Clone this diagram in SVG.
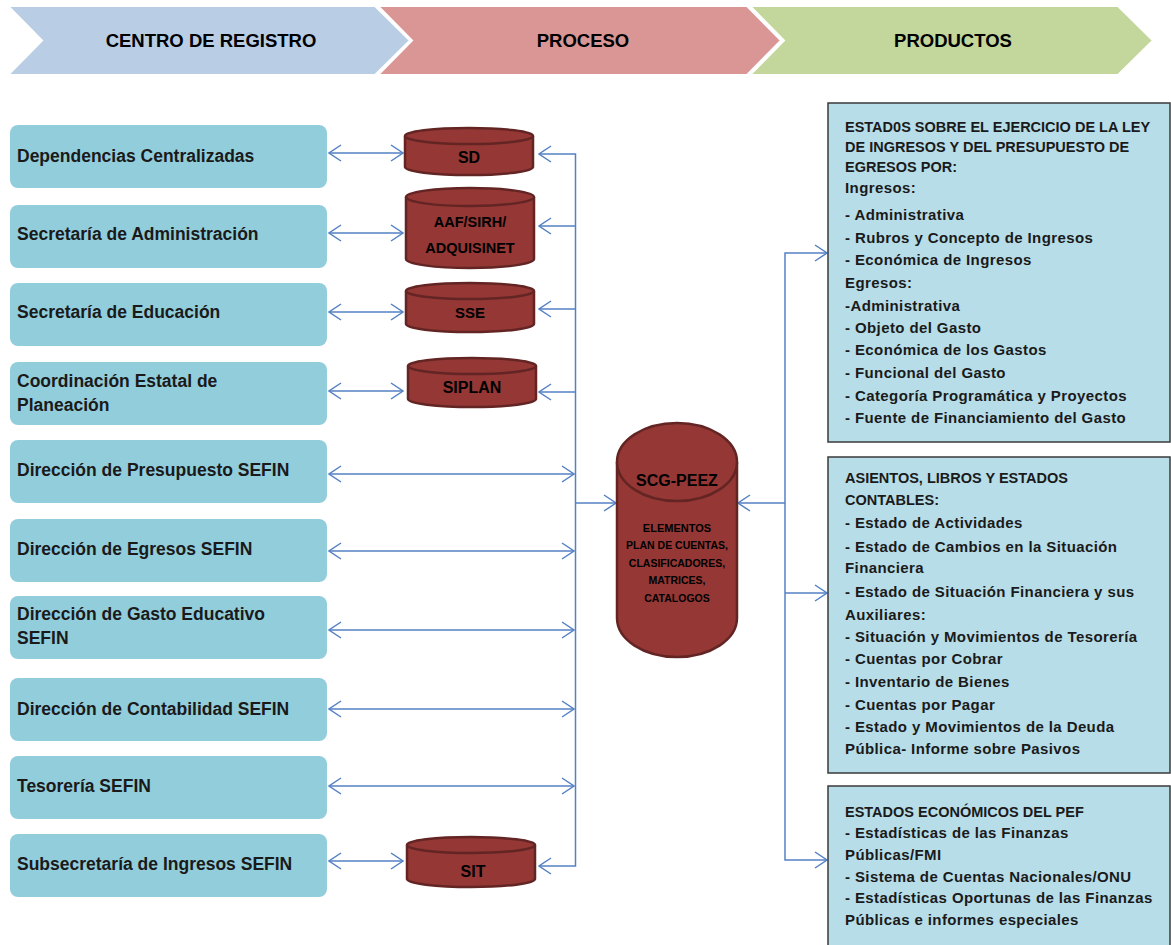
<svg xmlns="http://www.w3.org/2000/svg" width="1171" height="945" viewBox="0 0 1171 945">
<style>
.hdr{font-family:"Liberation Sans",Arial,sans-serif;font-weight:bold;font-size:18.5px;fill:#000;text-anchor:middle}
.lbox{fill:#92cddc;stroke:none}
.ltxt{font-family:"Liberation Sans",Arial,sans-serif;font-weight:bold;font-size:17.5px;fill:#1a1a1a}
.cyl{fill:#953735;stroke:#632523;stroke-width:2.5}
.ctxt{font-family:"Liberation Sans",Arial,sans-serif;font-weight:bold;font-size:16px;fill:#000;text-anchor:middle}
.rbox{fill:#b7dde8;stroke:#3a3a3a;stroke-width:1.5}
.rtxt{font-family:"Liberation Sans",Arial,sans-serif;font-weight:bold;font-size:15px;letter-spacing:0.4px;fill:#1a1a1a}
.rcap{font-family:"Liberation Sans",Arial,sans-serif;font-weight:bold;font-size:14.5px;fill:#1a1a1a}
.con{fill:none;stroke:#5481c4;stroke-width:1.5}
</style>
<defs>
<marker id="ah" viewBox="0 0 14 18" refX="13" refY="9" markerWidth="14" markerHeight="18" markerUnits="userSpaceOnUse" orient="auto-start-reverse">
<path d="M1,1 L13,9 L1,17" fill="none" stroke="#5481c4" stroke-width="1.5"/>
</marker>
</defs>
<rect width="1171" height="945" fill="#fff"/>
<g id="header">
<polygon points="8,6 375,6 410,40.5 375,75 8,75 42,40.5" fill="#b9cde5" stroke="#fff" stroke-width="2"/>
<polygon points="378,6 747,6 781,40.5 747,75 378,75 412,40.5" fill="#d99694" stroke="#fff" stroke-width="2"/>
<polygon points="750,6 1118,6 1153,40.5 1118,75 750,75 784,40.5" fill="#c3d69b" stroke="#fff" stroke-width="2"/>
<text class="hdr" x="211" y="47">CENTRO DE REGISTRO</text>
<text class="hdr" x="583" y="47">PROCESO</text>
<text class="hdr" x="953" y="47">PRODUCTOS</text>
</g>
<g id="connectors">
<line class="con" x1="329" y1="153" x2="403" y2="153" marker-start="url(#ah)" marker-end="url(#ah)"/>
<line class="con" x1="329" y1="233" x2="403" y2="233" marker-start="url(#ah)" marker-end="url(#ah)"/>
<line class="con" x1="329" y1="312" x2="403" y2="312" marker-start="url(#ah)" marker-end="url(#ah)"/>
<line class="con" x1="329" y1="391" x2="403" y2="391" marker-start="url(#ah)" marker-end="url(#ah)"/>
<line class="con" x1="329" y1="474" x2="574" y2="474" marker-start="url(#ah)" marker-end="url(#ah)"/>
<line class="con" x1="329" y1="551" x2="574" y2="551" marker-start="url(#ah)" marker-end="url(#ah)"/>
<line class="con" x1="329" y1="630" x2="574" y2="630" marker-start="url(#ah)" marker-end="url(#ah)"/>
<line class="con" x1="329" y1="709" x2="574" y2="709" marker-start="url(#ah)" marker-end="url(#ah)"/>
<line class="con" x1="329" y1="786" x2="574" y2="786" marker-start="url(#ah)" marker-end="url(#ah)"/>
<line class="con" x1="329" y1="861" x2="403" y2="861" marker-start="url(#ah)" marker-end="url(#ah)"/>
<path class="con" d="M539,154 H575.5 V866 H539" marker-start="url(#ah)" marker-end="url(#ah)"/>
<path class="con" d="M575.5,226 H539" marker-end="url(#ah)"/>
<path class="con" d="M575.5,309 H539" marker-end="url(#ah)"/>
<path class="con" d="M575.5,392 H539" marker-end="url(#ah)"/>
<path class="con" d="M575.5,503 H616" marker-end="url(#ah)"/>
<path class="con" d="M785,503 H738" marker-end="url(#ah)"/>
<path class="con" d="M827,253 H785 V860 H827" marker-start="url(#ah)" marker-end="url(#ah)"/>
<path class="con" d="M785,593 H827" marker-end="url(#ah)"/>
</g>
<g id="n-dependencias"><rect class="lbox" x="10" y="125" width="317" height="63" rx="8"/><text class="ltxt" x="17" y="162">Dependencias Centralizadas</text></g>
<g id="n-administracion"><rect class="lbox" x="10" y="205" width="317" height="63" rx="8"/><text class="ltxt" x="17" y="240">Secretaría de Administración</text></g>
<g id="n-educacion"><rect class="lbox" x="10" y="283" width="317" height="63" rx="8"/><text class="ltxt" x="17" y="318">Secretaría de Educación</text></g>
<g id="n-planeacion"><rect class="lbox" x="10" y="362" width="317" height="63" rx="8"/><text class="ltxt" x="17" y="387">Coordinación Estatal de</text><text class="ltxt" x="17" y="411">Planeación</text></g>
<g id="n-presupuesto"><rect class="lbox" x="10" y="440" width="317" height="63" rx="8"/><text class="ltxt" x="17" y="476">Dirección de Presupuesto SEFIN</text></g>
<g id="n-egresos"><rect class="lbox" x="10" y="519" width="317" height="63" rx="8"/><text class="ltxt" x="17" y="555">Dirección de Egresos SEFIN</text></g>
<g id="n-gasto"><rect class="lbox" x="10" y="596" width="317" height="63" rx="8"/><text class="ltxt" x="17" y="620">Dirección de Gasto Educativo</text><text class="ltxt" x="17" y="644">SEFIN</text></g>
<g id="n-contabilidad"><rect class="lbox" x="10" y="678" width="317" height="63" rx="8"/><text class="ltxt" x="17" y="715">Dirección de Contabilidad  SEFIN</text></g>
<g id="n-tesoreria"><rect class="lbox" x="10" y="756" width="317" height="63" rx="8"/><text class="ltxt" x="17" y="792">Tesorería SEFIN</text></g>
<g id="n-ingresos"><rect class="lbox" x="10" y="834" width="317" height="63" rx="8"/><text class="ltxt" x="17" y="870">Subsecretaría de Ingresos SEFIN</text></g>
<g id="c-sd">
<path class="cyl" d="M405,136 V167 A64,8 0 0 0 533,167 V136"/>
<ellipse class="cyl" cx="469" cy="136" rx="64" ry="8"/>
<text class="ctxt" x="469" y="163">SD</text>
</g>
<g id="c-aaf">
<path class="cyl" d="M406,197 V259 A64,9 0 0 0 534,259 V197"/>
<ellipse class="cyl" cx="470" cy="197" rx="64" ry="9"/>
<text class="ctxt" x="470" y="227" style="font-size:14.5px">AAF/SIRH/</text>
<text class="ctxt" x="470" y="253" style="font-size:14.5px">ADQUISINET</text>
</g>
<g id="c-sse">
<path class="cyl" d="M406,291 V324 A64,8 0 0 0 534,324 V291"/>
<ellipse class="cyl" cx="470" cy="291" rx="64" ry="8"/>
<text class="ctxt" x="470" y="318" style="font-size:15px">SSE</text>
</g>
<g id="c-siplan">
<path class="cyl" d="M408,366 V399 A64,8 0 0 0 536,399 V366"/>
<ellipse class="cyl" cx="472" cy="366" rx="64" ry="8"/>
<text class="ctxt" x="472" y="393">SIPLAN</text>
</g>
<g id="c-sit">
<path class="cyl" d="M407,845 V879 A64,8 0 0 0 535,879 V845"/>
<ellipse class="cyl" cx="471" cy="845" rx="64" ry="8"/>
<text class="ctxt" x="473" y="877">SIT</text>
</g>
<g id="c-scg">
<path class="cyl" d="M617,462 V618 A60,39 0 0 0 737,618 V462"/>
<ellipse class="cyl" cx="677" cy="462" rx="60" ry="39"/>
<text class="ctxt" x="677" y="486">SCG-PEEZ</text>
<text class="ctxt" x="677" y="532" style="font-size:11px">ELEMENTOS</text>
<text class="ctxt" x="677" y="549" style="font-size:10.5px">PLAN DE CUENTAS,</text>
<text class="ctxt" x="677" y="567" style="font-size:10.5px">CLASIFICADORES,</text>
<text class="ctxt" x="677" y="584" style="font-size:10.5px">MATRICES,</text>
<text class="ctxt" x="677" y="602" style="font-size:10.5px">CATALOGOS</text>
</g>
<g id="p-estados-ley">
<rect class="rbox" x="828" y="103" width="342" height="339"/>
<text class="rcap" x="845" y="132">ESTAD0S SOBRE EL EJERCICIO DE  LA LEY</text>
<text class="rcap" x="845" y="152">DE INGRESOS Y DEL PRESUPUESTO  DE</text>
<text class="rcap" x="845" y="172">EGRESOS  POR:</text>
<text class="rtxt" x="845" y="193">Ingresos:</text>
<text class="rtxt" x="845" y="220">- Administrativa</text>
<text class="rtxt" x="845" y="243">- Rubros y Concepto de Ingresos</text>
<text class="rtxt" x="845" y="265">- Económica de Ingresos</text>
<text class="rtxt" x="845" y="288">Egresos:</text>
<text class="rtxt" x="845" y="311">-Administrativa</text>
<text class="rtxt" x="845" y="333">- Objeto del Gasto</text>
<text class="rtxt" x="845" y="355">- Económica de los Gastos</text>
<text class="rtxt" x="845" y="378">- Funcional del Gasto</text>
<text class="rtxt" x="845" y="401">- Categoría Programática y Proyectos</text>
<text class="rtxt" x="845" y="423">- Fuente de Financiamiento del Gasto</text>
</g>
<g id="p-asientos">
<rect class="rbox" x="828" y="457" width="342" height="316"/>
<text class="rcap" x="845" y="483">ASIENTOS, LIBROS Y ESTADOS</text>
<text class="rcap" x="845" y="505">CONTABLES:</text>
<text class="rtxt" x="845" y="528">- Estado de Actividades</text>
<text class="rtxt" x="845" y="552">- Estado de Cambios en la  Situación</text>
<text class="rtxt" x="845" y="573">Financiera</text>
<text class="rtxt" x="845" y="597">- Estado de Situación Financiera  y  sus</text>
<text class="rtxt" x="845" y="620">Auxiliares:</text>
<text class="rtxt" x="845" y="642">- Situación y Movimientos de Tesorería</text>
<text class="rtxt" x="845" y="664">- Cuentas por Cobrar</text>
<text class="rtxt" x="845" y="687">- Inventario de Bienes</text>
<text class="rtxt" x="845" y="710">- Cuentas por Pagar</text>
<text class="rtxt" x="845" y="732">- Estado y Movimientos de la Deuda</text>
<text class="rtxt" x="845" y="754">Pública- Informe sobre Pasivos</text>
</g>
<g id="p-economicos">
<rect class="rbox" x="828" y="786" width="342" height="170"/>
<text class="rcap" x="845" y="817">ESTADOS ECONÓMICOS DEL PEF</text>
<text class="rtxt" x="845" y="838">- Estadísticas de las  Finanzas</text>
<text class="rtxt" x="845" y="860">Públicas/FMI</text>
<text class="rtxt" x="845" y="882">- Sistema de Cuentas Nacionales/ONU</text>
<text class="rtxt" x="845" y="903">- Estadísticas Oportunas de las Finanzas</text>
<text class="rtxt" x="845" y="925">Públicas e informes especiales</text>
</g>
</svg>
